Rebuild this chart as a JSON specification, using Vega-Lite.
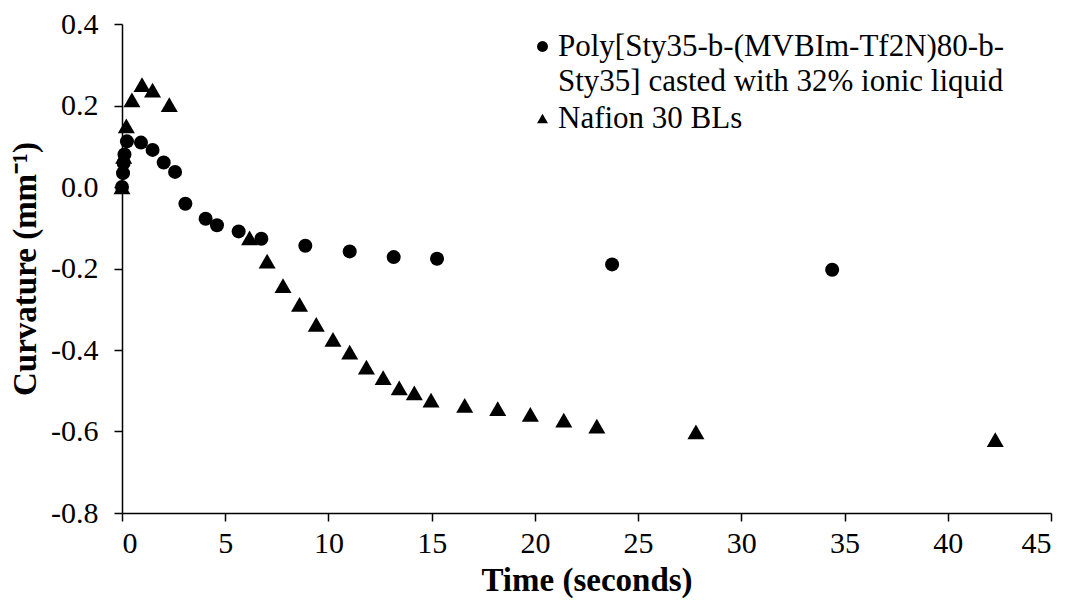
{
  "$schema": "https://vega.github.io/schema/vega-lite/v6.json",
  "width": 929,
  "height": 489,
  "autosize": {"type": "none"},
  "padding": {"left": 122, "top": 24, "right": 16, "bottom": 87},
  "background": "white",
  "data": {
    "values": [
      {"series": "Poly", "t": 0.0, "c": 0.0},
      {"series": "Poly", "t": 0.05, "c": 0.034},
      {"series": "Poly", "t": 0.08, "c": 0.059},
      {"series": "Poly", "t": 0.12, "c": 0.08},
      {"series": "Poly", "t": 0.24, "c": 0.112},
      {"series": "Poly", "t": 0.92, "c": 0.109},
      {"series": "Poly", "t": 1.48, "c": 0.091},
      {"series": "Poly", "t": 2.02, "c": 0.06},
      {"series": "Poly", "t": 2.57, "c": 0.037},
      {"series": "Poly", "t": 3.07, "c": -0.041},
      {"series": "Poly", "t": 4.05, "c": -0.078},
      {"series": "Poly", "t": 4.6, "c": -0.094},
      {"series": "Poly", "t": 5.65, "c": -0.109},
      {"series": "Poly", "t": 6.75, "c": -0.127},
      {"series": "Poly", "t": 8.88, "c": -0.144},
      {"series": "Poly", "t": 11.03, "c": -0.158},
      {"series": "Poly", "t": 13.16, "c": -0.172},
      {"series": "Poly", "t": 15.26, "c": -0.176},
      {"series": "Poly", "t": 23.74, "c": -0.19},
      {"series": "Poly", "t": 34.4, "c": -0.203},
      {"series": "Nafion", "t": 0.0, "c": 0.0},
      {"series": "Nafion", "t": 0.08, "c": 0.075},
      {"series": "Nafion", "t": 0.21, "c": 0.15},
      {"series": "Nafion", "t": 0.48, "c": 0.214},
      {"series": "Nafion", "t": 0.97, "c": 0.251},
      {"series": "Nafion", "t": 1.48, "c": 0.238},
      {"series": "Nafion", "t": 2.29, "c": 0.202},
      {"series": "Nafion", "t": 6.18, "c": -0.125},
      {"series": "Nafion", "t": 7.03, "c": -0.182},
      {"series": "Nafion", "t": 7.8, "c": -0.242},
      {"series": "Nafion", "t": 8.6, "c": -0.288},
      {"series": "Nafion", "t": 9.41, "c": -0.337},
      {"series": "Nafion", "t": 10.22, "c": -0.374},
      {"series": "Nafion", "t": 11.03, "c": -0.405},
      {"series": "Nafion", "t": 11.84, "c": -0.442},
      {"series": "Nafion", "t": 12.65, "c": -0.468},
      {"series": "Nafion", "t": 13.43, "c": -0.493},
      {"series": "Nafion", "t": 14.16, "c": -0.505},
      {"series": "Nafion", "t": 14.97, "c": -0.523},
      {"series": "Nafion", "t": 16.6, "c": -0.536},
      {"series": "Nafion", "t": 18.2, "c": -0.544},
      {"series": "Nafion", "t": 19.78, "c": -0.558},
      {"series": "Nafion", "t": 21.4, "c": -0.572},
      {"series": "Nafion", "t": 23.0, "c": -0.587},
      {"series": "Nafion", "t": 27.8, "c": -0.601},
      {"series": "Nafion", "t": 42.3, "c": -0.62}
    ]
  },
  "mark": {"type": "point", "filled": true, "color": "black", "opacity": 1},
  "encoding": {
    "x": {
      "field": "t", "type": "quantitative",
      "scale": {"domain": [0, 45], "nice": false, "zero": false},
      "axis": {"values": [0, 5, 10, 15, 20, 25, 30, 35, 40, 45], "grid": false, "title": "Time (seconds)", "labelPadding": 7, "titlePadding": 6}
    },
    "y": {
      "field": "c", "type": "quantitative",
      "scale": {"domain": [-0.8, 0.4], "nice": false, "zero": false},
      "axis": {"values": [-0.8, -0.6, -0.4, -0.2, 0, 0.2, 0.4], "format": ".1f", "labelExpr": "replace(datum.label, '−', '-')", "grid": false, "title": "Curvature (mm⁻¹)", "labelPadding": 16, "titlePadding": 8}
    },
    "shape": {
      "field": "series", "type": "nominal",
      "scale": {"domain": ["Poly", "Nafion"], "range": ["circle", "triangle-up"]},
      "legend": {
        "title": null,
        "orient": "none",
        "legendX": 405,
        "legendY": 7,
        "padding": 0,
        "symbolSize": 120,
        "symbolFillColor": "black",
        "symbolStrokeColor": "black",
        "symbolStrokeWidth": 0,
        "labelFont": "Liberation Serif",
        "labelFontSize": 31,
        "labelColor": "black",
        "labelLimit": 700,
        "labelOffset": 0,
        "rowPadding": 5,
        "labelExpr": "datum.label == 'Poly' ? ['Poly[Sty35-b-(MVBIm-Tf2N)80-b-', 'Sty35] casted with 32% ionic liquid'] : 'Nafion 30 BLs'"
      }
    },
    "size": {
      "condition": {"test": "datum.series == 'Poly'", "value": 196},
      "value": 290
    }
  },
  "config": {
    "font": "Liberation Serif",
    "view": {"stroke": null},
    "style": {"guide-label": {"lineHeight": 35, "font": "Liberation Serif"}, "guide-title": {"font": "Liberation Serif"}},
    "axis": {
      "domainColor": "black",
      "domainWidth": 1.5,
      "tickColor": "black",
      "tickWidth": 1.5,
      "tickSize": 8,
      "labelFont": "Liberation Serif",
      "labelFontSize": 30,
      "labelColor": "black",
      "titleFont": "Liberation Serif",
      "titleFontSize": 33,
      "titleFontWeight": "bold",
      "titleColor": "black"
    }
  }
}
